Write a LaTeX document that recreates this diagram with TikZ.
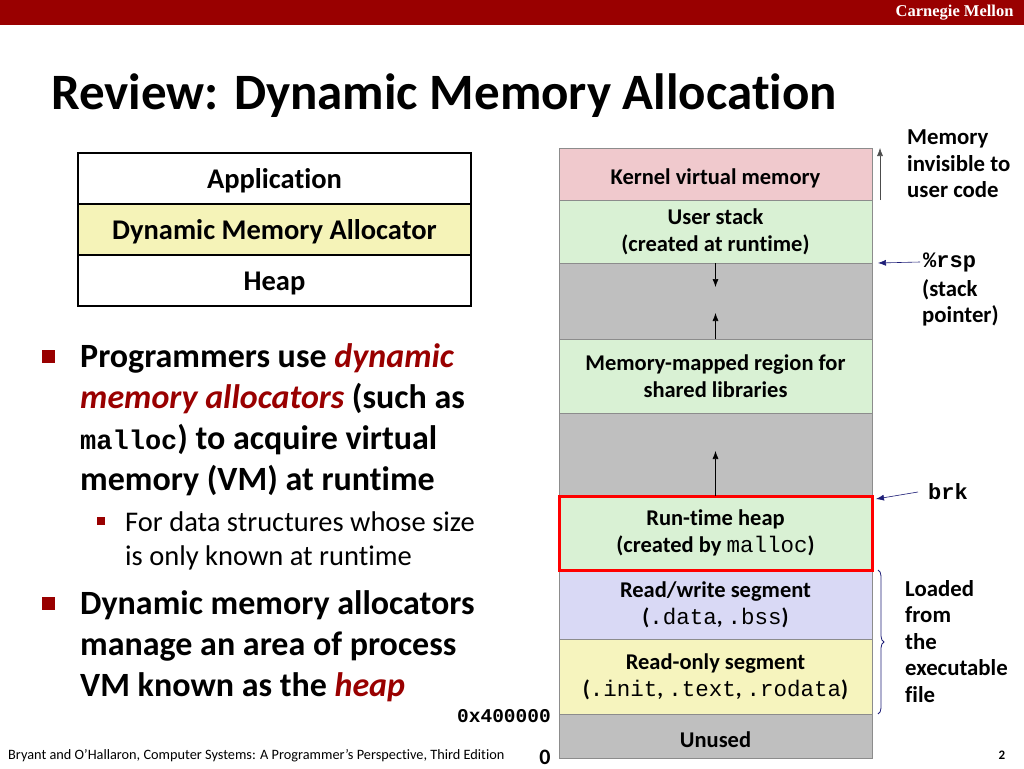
\documentclass[tikz,border=0pt]{standalone}
\usepackage{fontspec}
\setmainfont{Carlito}[Ligatures=NoCommon]
\setmonofont{Liberation Mono}
\newfontfamily\cmufont{Liberation Serif}
\usetikzlibrary{positioning,arrows.meta,decorations.pathreplacing}
\definecolor{cmured}{RGB}{153,0,0}
\definecolor{kernc}{RGB}{240,201,205}
\definecolor{stackc}{RGB}{217,241,212}
\definecolor{gapc}{RGB}{191,191,191}
\definecolor{rwc}{RGB}{217,217,245}
\definecolor{roc}{RGB}{246,244,190}
\definecolor{allocc}{RGB}{245,243,184}
\definecolor{segline}{RGB}{140,140,140}
\definecolor{ptrc}{RGB}{30,30,120}
\newcommand\hot[1]{\textcolor{cmured}{\itshape #1}}
\tikzset{
  seg/.style={draw=segline, line width=0.8pt, minimum width=313pt, inner sep=0pt,
    outer sep=0pt, align=center, font=\fontsize{22.5}{27}\selectfont\bfseries,
    execute at begin node={\rule{0pt}{24pt}}},
  layer/.style={draw=black, line width=2.5pt, minimum width=393pt, minimum height=51pt,
    inner sep=0pt, outer sep=0pt, font=\fontsize{28.5}{32}\selectfont\bfseries,
    execute at begin node={\rule{0pt}{25pt}}},
  pushed/.style={-{Latex[length=8pt,width=6pt]}, line width=0.6pt},
  ptr/.style={-{Latex[length=8pt,width=6pt]}, line width=0.6pt, draw=ptrc},
  bigsq/.style={fill=cmured, minimum size=13pt, inner sep=0pt},
  smallsq/.style={fill=cmured, minimum size=8pt, inner sep=0pt},
  side/.style={anchor=north west, align=left, inner sep=0pt, font=\fontsize{22.8}{26.5}\selectfont\bfseries}
}
\begin{document}
\begin{tikzpicture}[x=1pt,y=-1pt]
\useasboundingbox (0,0) rectangle (1024,768);
% header
\fill[cmured] (0,0) rectangle (1024,25);
\node[anchor=east, text=white, font=\cmufont\fontsize{16.5}{18}\selectfont\bfseries] (cmu) at (1017,13) {Carnegie Mellon};
\node[anchor=west, inner sep=0pt, font=\fontsize{51}{60}\selectfont\bfseries] (title) at (51,96) {Review: Dynamic Memory Allocation};

% software layers
\node[layer] (app) at (274.5,178.5) {Application};
\node[layer, fill=allocc, below=0pt of app] (alloc) {Dynamic Memory Allocator};
\node[layer, below=0pt of alloc] (heaplayer) {Heap};

% bullets
\node[bigsq] (b1) at (48,356) {};
\node[anchor=north west, align=left, inner sep=0pt, font=\fontsize{34}{41}\selectfont\bfseries] (t1) at (80,343)
  {Programmers use \hot{dynamic}\\\hot{memory allocators} (such as\\{\fontsize{27}{41}\selectfont\texttt{malloc}}) to acquire virtual\\memory (VM) at runtime};
\node[smallsq] (b2) at (101,521) {};
\node[anchor=north west, align=left, inner sep=0pt, font=\fontsize{28.5}{34}\selectfont] (t2) at (125,512)
  {For data structures whose size\\is only known at runtime};
\node[bigsq] (b3) at (48,603) {};
\node[anchor=north west, align=left, inner sep=0pt, font=\fontsize{34}{41}\selectfont\bfseries] (t3) at (80,590)
  {Dynamic memory allocators\\manage an area of process\\VM known as the \hot{heap}};

% address space
\node[seg, fill=kernc, minimum height=52pt, anchor=north west] (kern) at (559,148) {Kernel virtual memory};
\node[seg, fill=stackc, minimum height=63pt, below=0pt of kern] (ustack) {User stack\\(created at runtime)};
\node[seg, fill=gapc, minimum height=76pt, below=0pt of ustack] (gapa) {};
\node[seg, fill=stackc, minimum height=74pt, below=0pt of gapa] (mmap) {Memory-mapped region for\\shared libraries};
\node[seg, fill=gapc, minimum height=83pt, below=0pt of mmap] (gapb) {};
\node[seg, fill=stackc, minimum height=74pt, below=0pt of gapb] (heap) {Run-time heap\\(created by \texttt{\mdseries malloc})};
\node[seg, fill=rwc, minimum height=69pt, below=0pt of heap] (rwseg) {Read/write segment\\(\texttt{\mdseries .data}, \texttt{\mdseries .bss})};
\node[seg, fill=roc, minimum height=75pt, below=0pt of rwseg] (roseg) {Read-only segment\\(\texttt{\mdseries .init}, \texttt{\mdseries .text}, \texttt{\mdseries .rodata})};
\node[seg, fill=gapc, minimum height=44pt, below=0pt of roseg] (unused) {Unused};
\draw[red, line width=3pt] (heap.north west) rectangle (heap.south east);

% growth arrows
\coordinate (stackend) at ([yshift=-24pt]gapa.north);
\coordinate (mmapend) at ([yshift=26pt]gapa.south);
\coordinate (heapend) at ([yshift=45pt]gapb.south);
\draw[pushed] (gapa.north) -- (stackend);
\draw[pushed] (gapa.south) -- (mmapend);
\draw[pushed] (gapb.south) -- (heapend);

% right side labels
\coordinate (kbot) at ([xshift=8pt]kern.south east);
\coordinate (ktop) at ([xshift=8pt]kern.north east);
\draw[pushed, draw=black!70] (kbot) -- (ktop);
\node[side] (kernnote) at (907,130) {Memory\\invisible to\\user code};

\node[anchor=west, inner sep=0pt, font=\fontsize{22}{26}\selectfont\ttfamily\bfseries] (rsp) at (923,262) {\%rsp};
\node[side, anchor=north west] (rspnote) at (922,279) {(stack\\pointer)};
\coordinate (rsptip) at ([xshift=6pt]ustack.south east);
\draw[ptr] ([xshift=-3pt]rsp.west) -- (rsptip);

\node[anchor=west, inner sep=0pt, font=\fontsize{22}{26}\selectfont\ttfamily\bfseries] (brk) at (928,492) {brk};
\coordinate (brktip) at ([xshift=4pt,yshift=-3pt]heap.north east);
\draw[ptr] ([xshift=-10pt]brk.west) -- (brktip);

\draw[ptrc, line width=0.8pt, decorate, decoration={brace, amplitude=6pt}]
  ([xshift=6pt]rwseg.north east) -- ([xshift=6pt]roseg.south east);
\node[side] (loaded) at (905,580) {Loaded\\from\\the\\executable\\file};

% addresses
\node[anchor=east, inner sep=0pt, font=\fontsize{19.5}{20}\selectfont\ttfamily\bfseries] (addr) at (551,716) {0x400000};
\node[anchor=center, inner sep=0pt, font=\fontsize{22}{24}\selectfont\bfseries] (zero) at (545,757) {0};

% footer
\node[anchor=west, inner sep=0pt, font=\fontsize{14.3}{15}\selectfont] (cite) at (8,756)
  {Bryant and O’Hallaron, Computer Systems: A Programmer’s Perspective, Third Edition};
\node[anchor=center, inner sep=0pt, font=\fontsize{13}{15}\selectfont\bfseries] (page) at (1002,755) {2};
\end{tikzpicture}
\end{document}
